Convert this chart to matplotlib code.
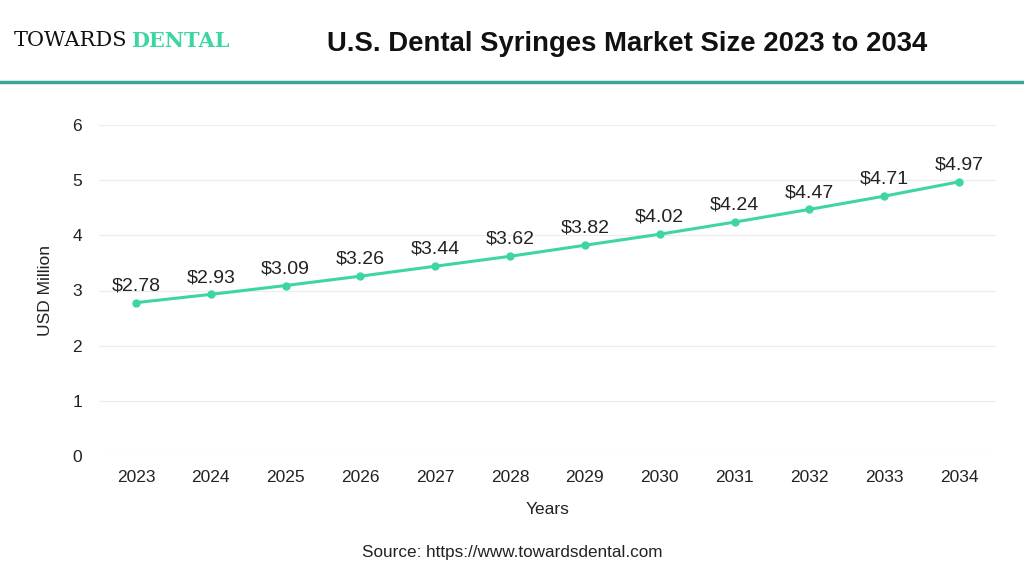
import matplotlib.pyplot as plt

years = ["2023", "2024", "2025", "2026", "2027", "2028",
         "2029", "2030", "2031", "2032", "2033", "2034"]
market_size = [2.78, 2.93, 3.09, 3.26, 3.44, 3.62, 3.82, 4.02, 4.24, 4.47, 4.71, 4.97]

plt.rcParams['font.family'] = ['Liberation Sans', 'DejaVu Sans']

fig = plt.figure(figsize=(10.24, 5.76), dpi=100)
ax = fig.add_axes([98.6 / 1024, 1 - 456 / 576, (996.4 - 98.6) / 1024, (456 - 125) / 576])

x = list(range(len(years)))
ax.plot(x, market_size, color="#3dd6a3", linewidth=2.2, marker="o", markersize=5)

# etiquettes des valeurs
for i, v in enumerate(market_size):
    ax.annotate(f"${v:.2f}", (i, v), xytext=(0, 6), textcoords="offset points",
                ha="center", va="bottom", fontsize=14, color="#222222")

ax.set_xlim(-0.5, len(years) - 0.5)
ax.set_ylim(0, 6)
ax.set_xticks(x)
ax.set_xticklabels(years)
ax.set_yticks(range(0, 7))
ax.tick_params(length=0, labelsize=12.5, pad=10, colors="#222222")
ax.tick_params(axis="y", pad=12)
ax.grid(axis="y", color="#ececec", linewidth=0.8)
ax.set_axisbelow(True)
for s in ax.spines.values():
    s.set_visible(False)

ax.set_xlabel("Years", fontsize=12.5, labelpad=12, color="#222222")
ax.set_ylabel("USD Million", fontsize=12.5, labelpad=14, color="#222222")

# en-tete
fig.text(627 / 1024, 1 - 44 / 576, "U.S. Dental Syringes Market Size 2023 to 2034",
         ha="center", va="center", fontsize=19.8, fontweight="bold", color="#111111")
fig.text(14 / 1024, 1 - 41 / 576, "TOWARDS", ha="left", va="center",
         fontsize=15, family="DejaVu Serif", color="#111111")
fig.text(131 / 1024, 1 - 41 / 576, "DENTAL", ha="left", va="center",
         fontsize=15, family="DejaVu Serif", fontweight="bold", color="#3dd6a3")
fig.add_artist(plt.Line2D([0, 1], [1 - 82 / 576, 1 - 82 / 576], color="#3aa895", linewidth=2.5))

fig.text(512 / 1024, 1 - 552 / 576, "Source: https://www.towardsdental.com",
         ha="center", va="center", fontsize=12.3, color="#222222")

fig.savefig("out.png", dpi=100)
